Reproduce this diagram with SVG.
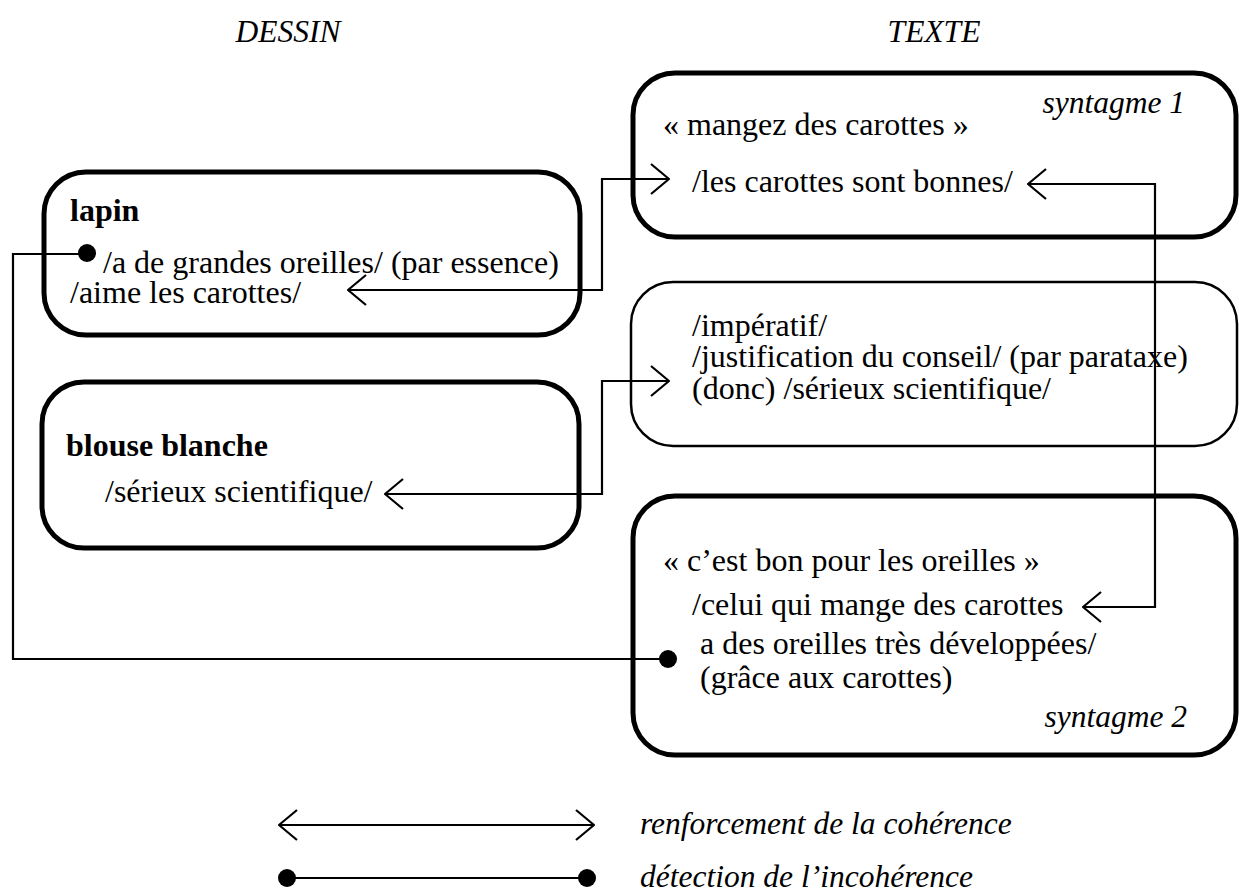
<svg xmlns="http://www.w3.org/2000/svg" width="1239" height="895" viewBox="0 0 1239 895">
<defs>
<style>
text{font-family:'Liberation Serif','Times New Roman',serif;font-size:32px;fill:#000}
.b{font-weight:bold}
.i{font-style:italic;font-size:31.5px}
.thick{fill:#fff;stroke:#000;stroke-width:5}
.thin{fill:#fff;stroke:#000;stroke-width:2.5}
.c{fill:none;stroke:#000;stroke-width:2.2}
.dot{fill:#000}
</style>
<marker id="ah" viewBox="0 0 20 32" refX="19" refY="16" markerWidth="20" markerHeight="32" markerUnits="userSpaceOnUse" orient="auto-start-reverse">
<path d="M1,1 L19,16 L1,31" fill="none" stroke="#000" stroke-width="2.2"/>
</marker>
</defs>
<rect width="1239" height="895" fill="#fff"/>
<text class="i" x="288" y="42" text-anchor="middle">DESSIN</text>
<text class="i" x="934" y="42" text-anchor="middle">TEXTE</text>
<g id="lapin">
<rect class="thick" x="44" y="172" width="536" height="163" rx="42"/>
<text class="b" x="70" y="221">lapin</text>
<text x="103" y="273">/a de grandes oreilles/ (par essence)</text>
<text x="70" y="303">/aime les carottes/</text>
</g>
<g id="blouse">
<rect class="thick" x="42" y="382" width="537" height="166" rx="42"/>
<text class="b" x="66" y="456">blouse blanche</text>
<text x="105" y="502">/sérieux scientifique/</text>
</g>
<g id="syntagme1">
<rect class="thick" x="633" y="73" width="603" height="164" rx="42"/>
<text class="i" x="1185" y="113" text-anchor="end">syntagme 1</text>
<text x="663" y="135">« mangez des carottes »</text>
<text x="692" y="192">/les carottes sont bonnes/</text>
</g>
<g id="imperatif">
<rect class="thin" x="631" y="282" width="606" height="164" rx="42"/>
<text x="692" y="336">/impératif/</text>
<text x="692" y="367">/justification du conseil/ (par parataxe)</text>
<text x="692" y="399">(donc) /sérieux scientifique/</text>
</g>
<g id="syntagme2">
<rect class="thick" x="633" y="496" width="603" height="259" rx="42"/>
<text x="663" y="571">« c’est bon pour les oreilles »</text>
<text x="692" y="615">/celui qui mange des carottes</text>
<text x="700" y="654">a des oreilles très développées/</text>
<text x="700" y="688">(grâce aux carottes)</text>
<text class="i" x="1187" y="727" text-anchor="end">syntagme 2</text>
</g>
<g id="connectors">
<path class="c" d="M348,290 H602 V179 H669" marker-start="url(#ah)" marker-end="url(#ah)"/>
<path class="c" d="M385,494 H602 V381 H669" marker-start="url(#ah)" marker-end="url(#ah)"/>
<path class="c" d="M1028,184 H1155 V607 H1083" marker-start="url(#ah)" marker-end="url(#ah)"/>
<path class="c" d="M87,254 H13 V659 H668"/>
<circle class="dot" cx="87" cy="253" r="9"/>
<circle class="dot" cx="668" cy="659" r="9"/>
</g>
<g id="legend">
<path class="c" d="M279,825 H594" marker-start="url(#ah)" marker-end="url(#ah)"/>
<text class="i" x="640" y="834">renforcement de la cohérence</text>
<path class="c" d="M287,878 H587"/>
<circle class="dot" cx="287" cy="878" r="9"/>
<circle class="dot" cx="587" cy="878" r="9"/>
<text class="i" x="640" y="887">détection de l’incohérence</text>
</g>
</svg>
